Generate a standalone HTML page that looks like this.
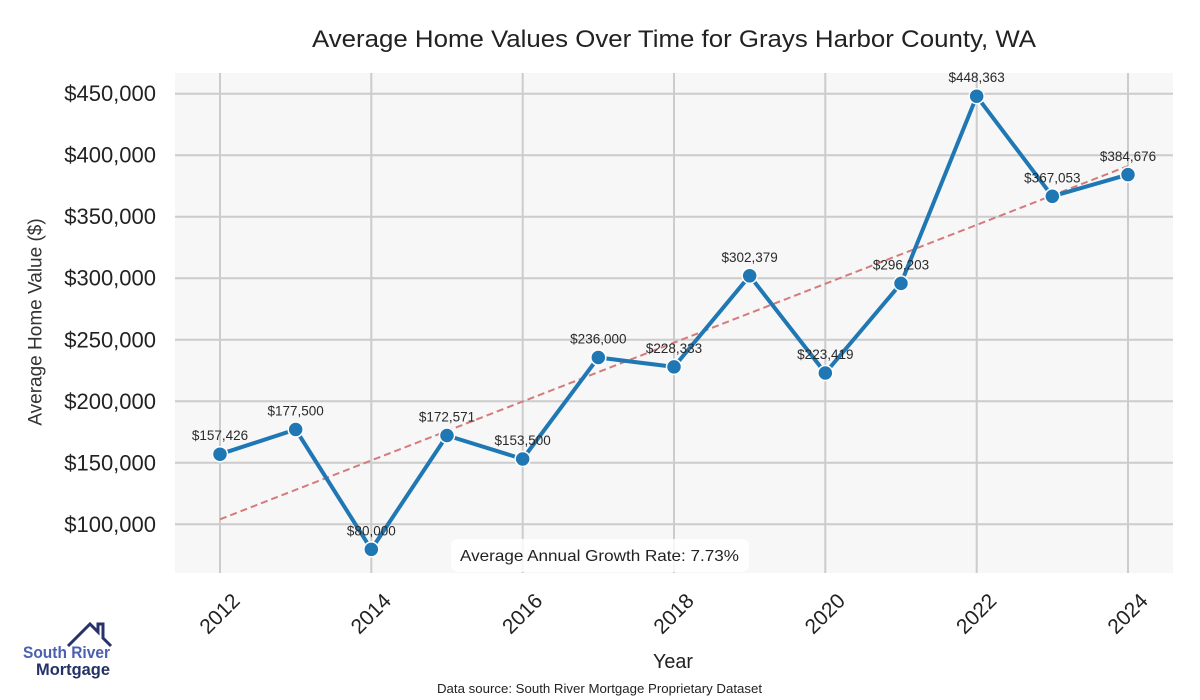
<!DOCTYPE html>
<html>
<head>
<meta charset="utf-8">
<style>
  html, body { margin:0; padding:0; background:#ffffff; }
  svg { display:block; }
  text { font-family: "Liberation Sans", "DejaVu Sans", sans-serif; }
</style>
</head>
<body>
<svg width="1200" height="700" viewBox="0 0 1200 700" xmlns="http://www.w3.org/2000/svg">
  <rect x="0" y="0" width="1200" height="700" fill="#ffffff"/>
  <!-- plot area -->
  <rect x="175" y="73" width="998" height="500" fill="#f7f7f7"/>
  <!-- horizontal grid -->
  <g stroke="#cccccc" stroke-width="2">
    <line x1="175" x2="1173" y1="93.7" y2="93.7"/>
    <line x1="175" x2="1173" y1="155.2" y2="155.2"/>
    <line x1="175" x2="1173" y1="216.7" y2="216.7"/>
    <line x1="175" x2="1173" y1="278.2" y2="278.2"/>
    <line x1="175" x2="1173" y1="339.8" y2="339.8"/>
    <line x1="175" x2="1173" y1="401.3" y2="401.3"/>
    <line x1="175" x2="1173" y1="462.8" y2="462.8"/>
    <line x1="175" x2="1173" y1="524.3" y2="524.3"/>
    <!-- vertical grid -->
    <line x1="220" x2="220" y1="73" y2="573"/>
    <line x1="371.3" x2="371.3" y1="73" y2="573"/>
    <line x1="522.7" x2="522.7" y1="73" y2="573"/>
    <line x1="674" x2="674" y1="73" y2="573"/>
    <line x1="825.3" x2="825.3" y1="73" y2="573"/>
    <line x1="976.7" x2="976.7" y1="73" y2="573"/>
    <line x1="1128" x2="1128" y1="73" y2="573"/>
  </g>

  <!-- y tick labels -->
  <g font-size="22" fill="#222" text-anchor="end" dominant-baseline="central">
    <text x="156" y="93.7">$450,000</text>
    <text x="156" y="155.2">$400,000</text>
    <text x="156" y="216.7">$350,000</text>
    <text x="156" y="278.2">$300,000</text>
    <text x="156" y="339.8">$250,000</text>
    <text x="156" y="401.3">$200,000</text>
    <text x="156" y="462.8">$150,000</text>
    <text x="156" y="524.3">$100,000</text>
  </g>

  <!-- y axis label -->
  <text x="36" y="322" font-size="19" fill="#333" text-anchor="middle" dominant-baseline="central" transform="rotate(-90 36 322)">Average Home Value ($)</text>

  <!-- x tick labels -->
  <g font-size="21" fill="#222" text-anchor="middle" dominant-baseline="central">
    <text x="220" y="614" transform="rotate(-45 220 614)">2012</text>
    <text x="371.3" y="614" transform="rotate(-45 371.3 614)">2014</text>
    <text x="522.7" y="614" transform="rotate(-45 522.7 614)">2016</text>
    <text x="674" y="614" transform="rotate(-45 674 614)">2018</text>
    <text x="825.3" y="614" transform="rotate(-45 825.3 614)">2020</text>
    <text x="976.7" y="614" transform="rotate(-45 976.7 614)">2022</text>
    <text x="1128" y="614" transform="rotate(-45 1128 614)">2024</text>
  </g>

  <!-- x axis label -->
  <text x="673" y="668" font-size="20" fill="#222" text-anchor="middle" textLength="40" lengthAdjust="spacingAndGlyphs">Year</text>

  <!-- trend line -->
  <line x1="220" y1="519.3" x2="1128" y2="166" stroke="#d67b7b" stroke-width="2" stroke-dasharray="7,4"/>

  <!-- data line -->
  <polyline fill="none" stroke="#1f77b4" stroke-width="4" stroke-linejoin="round"
    points="220,454.2 295.67,429.5 371.33,549.4 447,435.5 522.67,459 598.33,357.5 674,366.9 749.67,275.8 825.33,373 901,283.4 976.67,96.2 1052.33,196.3 1128,174.6"/>
  <g fill="#1f77b4" stroke="#ffffff" stroke-width="1.5">
    <circle cx="220" cy="454.2" r="7.5"/>
    <circle cx="295.67" cy="429.5" r="7.5"/>
    <circle cx="371.33" cy="549.4" r="7.5"/>
    <circle cx="447" cy="435.5" r="7.5"/>
    <circle cx="522.67" cy="459" r="7.5"/>
    <circle cx="598.33" cy="357.5" r="7.5"/>
    <circle cx="674" cy="366.9" r="7.5"/>
    <circle cx="749.67" cy="275.8" r="7.5"/>
    <circle cx="825.33" cy="373" r="7.5"/>
    <circle cx="901" cy="283.4" r="7.5"/>
    <circle cx="976.67" cy="96.2" r="7.5"/>
    <circle cx="1052.33" cy="196.3" r="7.5"/>
    <circle cx="1128" cy="174.6" r="7.5"/>
  </g>

  <!-- point labels -->
  <g font-size="13.5" fill="#2a2a2a" text-anchor="middle">
    <text x="220" y="440">$157,426</text>
    <text x="295.67" y="415.5">$177,500</text>
    <text x="371.33" y="535.5">$80,000</text>
    <text x="447" y="421.5">$172,571</text>
    <text x="522.67" y="445">$153,500</text>
    <text x="598.33" y="343.5">$236,000</text>
    <text x="674" y="353">$228,333</text>
    <text x="749.67" y="262">$302,379</text>
    <text x="825.33" y="359">$223,419</text>
    <text x="901" y="269.5">$296,203</text>
    <text x="976.67" y="82">$448,363</text>
    <text x="1052.33" y="182.5">$367,053</text>
    <text x="1128" y="161">$384,676</text>
  </g>

  <!-- growth box -->
  <rect x="451" y="539" width="298" height="33" rx="7" fill="#ffffff" fill-opacity="0.82"/>
  <text x="460" y="561" font-size="16" fill="#222" textLength="279" lengthAdjust="spacingAndGlyphs">Average Annual Growth Rate: 7.73%</text>

  <!-- title -->
  <text x="312" y="47" font-size="24" fill="#222" textLength="724" lengthAdjust="spacingAndGlyphs">Average Home Values Over Time for Grays Harbor County, WA</text>

  <!-- data source -->
  <text x="437" y="693" font-size="13" fill="#222" textLength="325" lengthAdjust="spacingAndGlyphs">Data source: South River Mortgage Proprietary Dataset</text>

  <!-- logo -->
  <path d="M68,646 L90,624 L98,632 L98,624 L103,624 L103,638 L111,646" fill="none" stroke="#27336a" stroke-width="3" stroke-linejoin="miter"/>
  <text x="23" y="658" font-size="17" font-weight="bold" fill="#4b5fb3" textLength="87" lengthAdjust="spacingAndGlyphs">South River</text>
  <text x="36" y="675" font-size="17" font-weight="bold" fill="#243165" textLength="74" lengthAdjust="spacingAndGlyphs">Mortgage</text>
</svg>
</body>
</html>
